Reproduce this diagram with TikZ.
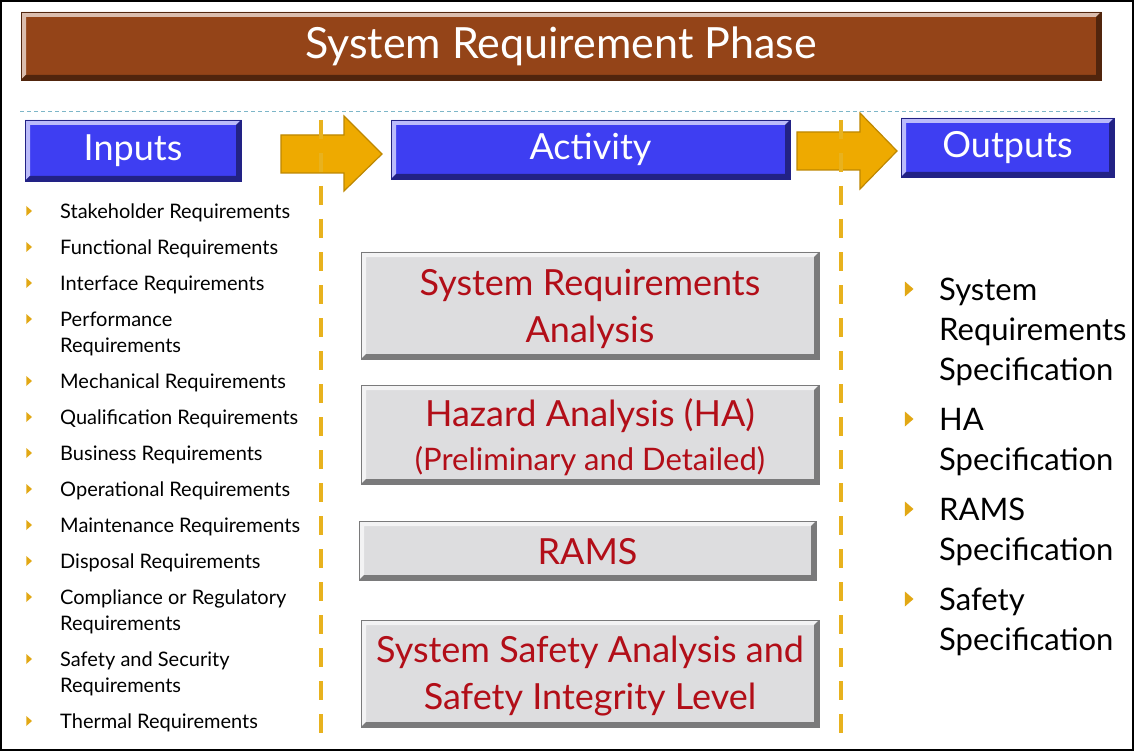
\documentclass[tikz,border=0pt]{standalone}
\usepackage{fontspec}
\setmainfont{Lato}
\definecolor{titlebrown}{RGB}{148,68,24}
\definecolor{headblue}{RGB}{62,62,242}
\definecolor{arrowgold}{RGB}{238,170,0}
\definecolor{arrowedge}{RGB}{190,135,0}
\definecolor{dashgold}{RGB}{232,178,30}
\definecolor{boxgray}{RGB}{221,221,223}
\definecolor{actred}{RGB}{178,14,24}
\definecolor{septeal}{RGB}{125,182,200}
\definecolor{bulletgold}{RGB}{226,168,20}
\tikzset{
  bevelbox/.style={rectangle, inner sep=0pt, fill=#1, draw=#1!55!black, line width=0.8pt,
    path picture={
      \fill[#1!35!white]
        (path picture bounding box.south west) -- (path picture bounding box.north west)
        -- (path picture bounding box.north east)
        -- ([shift={(-5pt,-5pt)}]path picture bounding box.north east)
        -- ([shift={(5pt,-5pt)}]path picture bounding box.north west)
        -- ([shift={(5pt,5pt)}]path picture bounding box.south west) -- cycle;
      \fill[#1!55!black]
        (path picture bounding box.south west) -- (path picture bounding box.south east)
        -- (path picture bounding box.north east)
        -- ([shift={(-5pt,-5pt)}]path picture bounding box.north east)
        -- ([shift={(-5pt,5pt)}]path picture bounding box.south east)
        -- ([shift={(5pt,5pt)}]path picture bounding box.south west) -- cycle;
    }},
  titlebox/.style={bevelbox=titlebrown, text=white, font=\fontsize{43}{50}\selectfont},
  headbox/.style={bevelbox=headblue, text=white, font=\fontsize{36}{42}\selectfont},
  actbox/.style={bevelbox=boxgray},
  acttext/.style={text=actred, align=center, inner sep=0pt, font=\fontsize{36}{47}\selectfont},
  bigarrow/.style={fill=arrowgold, draw=arrowedge, line width=1.2pt, line join=miter},
  coldash/.style={dashgold, line width=4.5pt, dash pattern=on 19pt off 14pt},
  initem/.style={anchor=base west, align=left, inner sep=0pt, font=\fontsize{20}{26}\selectfont},
  outitem/.style={anchor=base west, align=left, inner sep=0pt, font=\fontsize{31}{40}\selectfont},
  bulletmark/.style={fill=bulletgold}
}
\newcommand{\bulletat}[3]{\fill[bulletmark] (#1-#3*0.55,#2-#3) -- (#1+#3*0.6,#2) -- (#1-#3*0.55,#2+#3) -- cycle;}
\begin{document}
\begin{tikzpicture}[x=1pt,y=-1pt]
\useasboundingbox (0,0) rectangle (1134,751);
\fill[white] (0,0) rectangle (1134,751);
\draw[line width=1.6pt] (0.8,0.8) rectangle (1133.2,750.2);

% title
\node[titlebox, minimum width=1080pt, minimum height=68pt] (title) at (561,46) {System Requirement Phase};
\draw[septeal, line width=0.8pt, dash pattern=on 4pt off 3pt] (20,111) -- (1100,111);

% column heads
\node[headbox, minimum width=216pt, minimum height=61pt] (inputs) at (133,150.5) {Inputs};
\node[headbox, minimum width=399pt, minimum height=59pt] (activity) at (590.5,149.5) {Activity};
\node[headbox, minimum width=213pt, minimum height=59pt] (outputs) at (1007.5,147.5) {Outputs};

% block arrows
\draw[bigarrow] (281,135) -- (344,135) -- (344,116) -- (382,154) -- (344,191) -- (344,173) -- (281,173) -- cycle;
\draw[bigarrow] (797,132) -- (860,132) -- (860,113) -- (897,151) -- (860,189) -- (860,170) -- (797,170) -- cycle;

% column separators
\draw[coldash] (321,120) -- (321,736);
\draw[coldash] (841,120) -- (841,736);

% activity boxes
\node[actbox, minimum width=458pt, minimum height=107pt] (sra) at (590,305.5) {};
\node[acttext] (sratext) at ([yshift=-3pt]sra.center) {System Requirements\\Analysis};
\node[actbox, minimum width=458pt, minimum height=99pt] (ha) at (590,434.5) {};
\node[acttext] (hatext) at ([yshift=-3pt]ha.center) {Hazard Analysis (HA)\\[-3pt]{\fontsize{31}{36}\selectfont (Preliminary and Detailed)}};
\node[actbox, minimum width=457pt, minimum height=59pt] (rams) at (587.5,550.5) {};
\node[acttext] (ramstext) at ([yshift=-1pt]rams.center) {RAMS};
\node[actbox, minimum width=458pt, minimum height=107pt] (ssa) at (590,673.5) {};
\node[acttext] (ssatext) at ([yshift=-3pt]ssa.center) {System Safety Analysis and\\Safety Integrity Level};

% inputs list
\foreach \y/\n/\t [count=\i] in {211/0/Stakeholder Requirements, 247/0/Functional Requirements, 283/0/Interface Requirements, 319/1/Performance\\Requirements, 381/0/Mechanical Requirements, 417/0/Qualification Requirements, 453/0/Business Requirements, 489/0/Operational Requirements, 525/0/Maintenance Requirements, 561/0/Disposal Requirements, 597/1/Compliance or Regulatory\\Requirements, 659/1/Safety and Security\\Requirements, 721/0/Thermal Requirements}{
  \bulletat{29}{\y}{5}
  \node[initem] (in\i) at (60,\y+7.5+26*\n) {\t};
}

% outputs list
\foreach \y/\n/\t [count=\i] in {289/2/System\\Requirements\\Specification, 419/1/HA\\Specification, 509/1/RAMS\\Specification, 599/1/Safety\\Specification}{
  \bulletat{909}{\y}{7.5}
  \node[outitem] (out\i) at (939,\y+11+40*\n) {\t};
}
\end{tikzpicture}
\end{document}
